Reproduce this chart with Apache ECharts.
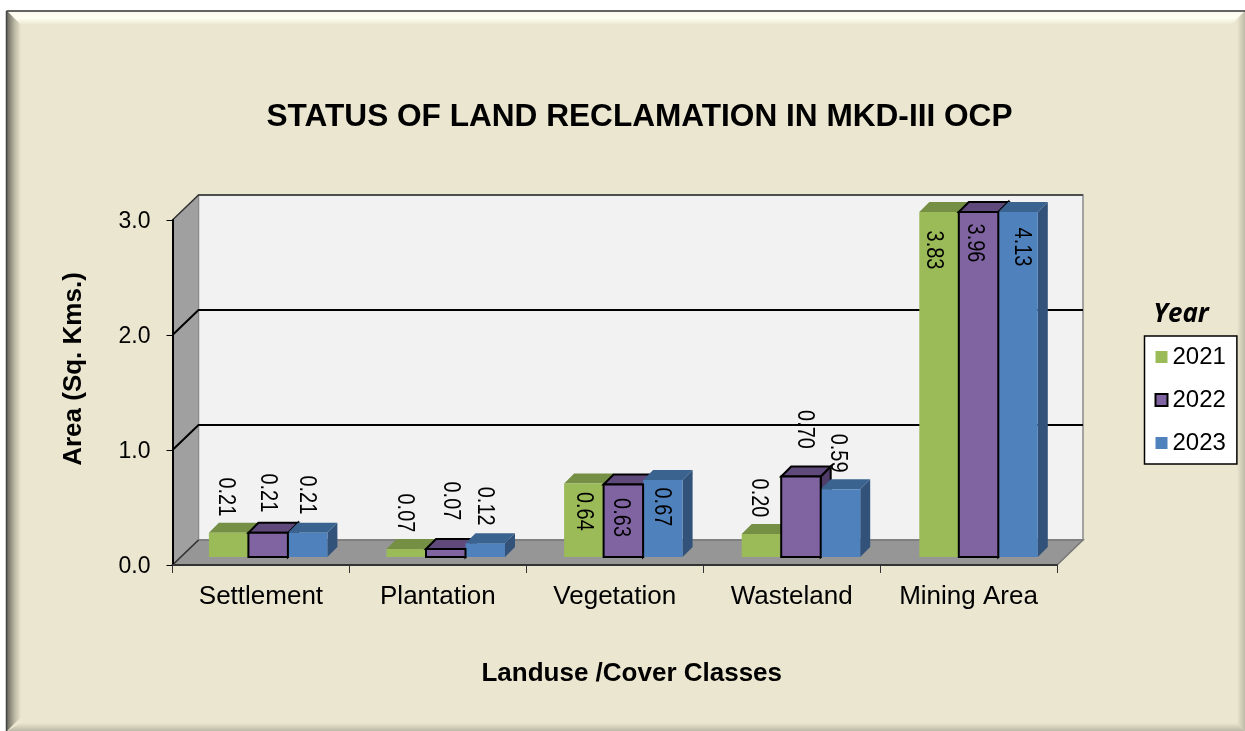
<!DOCTYPE html>
<html>
<head>
<meta charset="utf-8">
<title>Status of land reclamation</title>
<script src="https://cdn.jsdelivr.net/npm/echarts@6/dist/echarts.min.js"></script>
<style>
html, body { margin: 0; padding: 0; background: #fff; }
#main { width: 1245px; height: 731px; }
</style>
</head>
<body>
<div id="main"></div>
<script>
var categories = ['Settlement', 'Plantation', 'Vegetation', 'Wasteland', 'Mining Area'];
var years = ['2021', '2022', '2023'];
var values2021 = [0.21, 0.07, 0.64, 0.20, 3.83];
var values2022 = [0.21, 0.07, 0.63, 0.70, 3.96];
var values2023 = [0.21, 0.12, 0.67, 0.59, 4.13];
var valueTicks = [0, 1, 2, 3];

var AXIS_MAX = 3;
var FONT = '"Liberation Sans", Arial, sans-serif';

// the labels were dragged by hand in the original, so nudge each one [dx, dy] from its bar top
var labelNudge = [
    [[-3, -36], [-2, -36], [-1, 28], [-3, -36], [-6, 38]],
    [[-1, -40], [5, -48], [-3, 33], [3, -47], [-4, 31]],
    [[-1, -38], [-1, -37], [-2, 27], [-3, -36], [3, 35]]
];

var barColors = [
    { front: '#9bbb59', top: '#758f45', side: '#5e7a38' },
    { front: '#8064a2', top: '#604a7b', side: '#4f3c68' },
    { front: '#4f81bd', top: '#3b6390', side: '#32527a' }
];

// 3d look: wall depth, bar depth, how far the bars stand in from the front edge
var WALL_X = 26, WALL_Y = 25, BAR_DEPTH = 10, BAR_WIDTH = 39.5, BAR_IN_Y = 8;

function renderFrame(params, api) {
    var g = params.coordSys;
    var left = g.x, right = g.x + g.width, bottom = g.y + g.height, top = g.y;
    var children = [];
    if (params.dataIndex === 0) {
        children.push({
            type: 'polygon', z2: 0,
            shape: { points: [[left + WALL_X, top - WALL_Y], [right + WALL_X, top - WALL_Y], [right + WALL_X, bottom - WALL_Y], [left + WALL_X, bottom - WALL_Y]] },
            style: { fill: '#f2f2f2', stroke: '#8a8a8a', lineWidth: 1.5 }
        });
        children.push({
            type: 'polygon', z2: 0,
            shape: { points: [[left, top], [left + WALL_X, top - WALL_Y], [left + WALL_X, bottom - WALL_Y], [left, bottom]] },
            style: { fill: '#a0a0a0', stroke: '#8a8a8a', lineWidth: 1 }
        });
        children.push({
            type: 'polygon', z2: 0,
            shape: { points: [[left, bottom], [left + WALL_X, bottom - WALL_Y], [right + WALL_X, bottom - WALL_Y], [right, bottom]] },
            style: { fill: '#969696', stroke: '#777777', lineWidth: 1.5 }
        });
    }
    var y = api.coord([0, api.value(0)])[1];
    if (api.value(0) > 0) {
        var isTop = api.value(0) === AXIS_MAX;
        children.push({
            type: 'polyline', z2: 1,
            shape: { points: [[left, y], [left + WALL_X, y - WALL_Y], [right + WALL_X, y - WALL_Y]] },
            style: { fill: null, stroke: isTop ? '#333333' : '#000000', lineWidth: isTop ? 1.5 : 2 }
        });
    } else {
        children.push({
            type: 'line', z2: 1,
            shape: { x1: left, y1: y, x2: left + WALL_X, y2: y - WALL_Y },
            style: { stroke: '#333333', lineWidth: 1.5 }
        });
    }
    return { type: 'group', children: children };
}

function makeBarRenderer(yearIndex) {
    return function (params, api) {
        var cat = api.value(0);
        var val = api.value(1);
        var shown = Math.min(val, AXIS_MAX);
        var center = api.coord([cat, 0])[0] + 7.2 + 0.7 * cat + (yearIndex - 1) * BAR_WIDTH;
        var x0 = center - BAR_WIDTH / 2, x1 = center + BAR_WIDTH / 2;
        var base = api.coord([cat, 0])[1] - BAR_IN_Y;
        var top = api.coord([cat, shown])[1] - BAR_IN_Y;
        var col = barColors[yearIndex];
        var outlined = yearIndex === 1;
        var edge = outlined ? { stroke: '#000000', lineWidth: 2, lineJoin: 'miter' } : { stroke: null };
        var nudge = labelNudge[yearIndex][cat];
        var backZ = yearIndex + 3;
        var frontZ = outlined ? 6 : backZ;

        return {
            type: 'group',
            children: [
                {
                    type: 'polygon', z2: backZ,
                    shape: { points: [[x1, top], [x1 + BAR_DEPTH, top - BAR_DEPTH], [x1 + BAR_DEPTH, base - BAR_DEPTH], [x1, base]] },
                    style: Object.assign({ fill: col.side }, edge)
                },
                {
                    type: 'polygon', z2: backZ,
                    shape: { points: [[x0, top], [x0 + BAR_DEPTH, top - BAR_DEPTH], [x1 + BAR_DEPTH, top - BAR_DEPTH], [x1, top]] },
                    style: Object.assign({ fill: col.top }, edge)
                },
                {
                    type: 'rect', z2: frontZ,
                    shape: { x: x0, y: top, width: BAR_WIDTH, height: base - top },
                    style: Object.assign({ fill: col.front }, edge)
                },
                {
                    // rotated labels are a bit stretched across the line in the original
                    type: 'text', z2: 8,
                    x: center + nudge[0], y: top + nudge[1],
                    rotation: -Math.PI / 2,
                    scaleY: 1.15,
                    style: {
                        text: val.toFixed(2), fill: '#000000', font: '20px ' + FONT,
                        align: 'center', verticalAlign: 'middle'
                    }
                }
            ]
        };
    };
}

function barData(values) {
    return values.map(function (v, i) { return [i, v]; });
}

var myChart = echarts.init(document.getElementById('main'));

var yearValues = [values2021, values2022, values2023];
var series = [{
    type: 'custom',
    name: 'frame',
    coordinateSystem: 'cartesian2d',
    renderItem: renderFrame,
    encode: { y: 0 },
    data: valueTicks.map(function (t) { return [t]; }),
    silent: true
}];
for (var k = 0; k < years.length; k++) {
    series.push({
        type: 'custom',
        name: years[k],
        coordinateSystem: 'cartesian2d',
        renderItem: makeBarRenderer(k),
        encode: { x: 0, y: 1 },
        itemStyle: k === 1
            ? { color: barColors[k].front, borderColor: '#000000', borderWidth: 2 }
            : { color: barColors[k].front },
        data: barData(yearValues[k]),
        clip: false
    });
}

var option = {
    animation: false,
    backgroundColor: '#ffffff',
    graphic: [
        { type: 'rect', z: -10, shape: { x: 7, y: 11, width: 1238, height: 720 }, style: { fill: '#eae6cf' } },
        {
            type: 'polygon', z: -9,
            shape: { points: [[7, 11], [1245, 11], [1231, 25], [21, 25]] },
            style: { fill: { type: 'linear', x: 0, y: 0, x2: 0, y2: 1, colorStops: [{ offset: 0, color: '#fbf9ee' }, { offset: 0.5, color: '#fffff4' }, { offset: 1, color: '#eae6cf' }] } }
        },
        {
            type: 'polygon', z: -9,
            shape: { points: [[7, 11], [21, 25], [21, 717], [7, 731]] },
            style: { fill: { type: 'linear', x: 0, y: 0, x2: 1, y2: 0, colorStops: [{ offset: 0, color: '#6b695e' }, { offset: 0.5, color: '#b5b29f' }, { offset: 1, color: '#eae6cf' }] } }
        },
        {
            type: 'polygon', z: -9,
            shape: { points: [[1245, 11], [1245, 731], [1237, 723], [1237, 19]] },
            style: { fill: { type: 'linear', x: 0, y: 0, x2: 1, y2: 0, colorStops: [{ offset: 0, color: '#eae6cf' }, { offset: 1, color: '#bdbaa7' }] } }
        },
        {
            type: 'polygon', z: -9,
            shape: { points: [[21, 723], [1237, 723], [1245, 731], [7, 731]] },
            style: { fill: { type: 'linear', x: 0, y: 0, x2: 0, y2: 1, colorStops: [{ offset: 0, color: '#eae6cf' }, { offset: 1, color: '#bdbaa7' }] } }
        },
        { type: 'line', z: -8, shape: { x1: 6.5, y1: 11, x2: 1245, y2: 11 }, style: { stroke: '#333333', lineWidth: 1.5 } },
        { type: 'line', z: -8, shape: { x1: 6.5, y1: 11, x2: 6.5, y2: 731 }, style: { stroke: '#444444', lineWidth: 1.5 } }
    ],
    title: [
        {
            text: 'STATUS OF LAND RECLAMATION IN MKD-III OCP',
            left: 634.5, top: 112, textAlign: 'center', textVerticalAlign: 'middle',
            textStyle: { fontFamily: FONT, fontSize: 31.6, fontWeight: 'bold', color: '#000000' }
        },
        {
            text: 'Year',
            left: 1176, top: 310, textAlign: 'center', textVerticalAlign: 'middle',
            textStyle: { fontFamily: '"Open Sans", sans-serif', fontSize: 26, fontWeight: 'bold', fontStyle: 'italic', color: '#000000' }
        }
    ],
    legend: {
        data: years,
        orient: 'vertical',
        left: 1144.5,
        top: 336,
        width: 92,
        height: 127,
        padding: [9, 11, 9, 10],
        icon: 'rect',
        itemWidth: 12,
        itemHeight: 12,
        itemGap: 19,
        backgroundColor: '#ffffff',
        borderColor: '#000000',
        borderWidth: 1.5,
        selectedMode: false,
        textStyle: { fontFamily: FONT, fontSize: 24, color: '#000000', padding: [0, 0, 0, 0] }
    },
    grid: { left: 172.5, top: 220, right: 188, bottom: 166, containLabel: false },
    xAxis: {
        type: 'category',
        z: 3,
        data: categories,
        name: 'Landuse /Cover Classes',
        nameLocation: 'middle',
        nameGap: 96,
        nameTextStyle: { fontFamily: FONT, fontSize: 26, fontWeight: 'bold', color: '#000000', padding: [0, 0, 0, 34] },
        axisLine: { lineStyle: { color: '#333333', width: 2 } },
        axisTick: { show: true, interval: 0, length: 8, lineStyle: { color: '#333333', width: 1 } },
        axisLabel: { fontFamily: FONT, fontSize: 26, color: '#000000', margin: 19, interval: 0, hideOverlap: false },
        splitLine: { show: false }
    },
    yAxis: {
        type: 'value',
        z: 3,
        min: 0,
        max: AXIS_MAX,
        interval: 1,
        name: 'Area (Sq. Kms.)',
        nameLocation: 'middle',
        nameGap: 86,
        nameTextStyle: { fontFamily: FONT, fontSize: 26, fontWeight: 'bold', color: '#000000', padding: [0, 0, 0, 47] },
        axisLine: { show: true, lineStyle: { color: '#000000', width: 2 } },
        axisTick: { show: true, length: 6, lineStyle: { color: '#000000', width: 1 } },
        axisLabel: {
            fontFamily: FONT, fontSize: 23, color: '#000000', margin: 22, verticalAlign: 'top', lineHeight: 4,
            formatter: function (v) { return v.toFixed(1); }
        },
        splitLine: { show: false }
    },
    series: series
};

myChart.setOption(option);
</script>
</body>
</html>
